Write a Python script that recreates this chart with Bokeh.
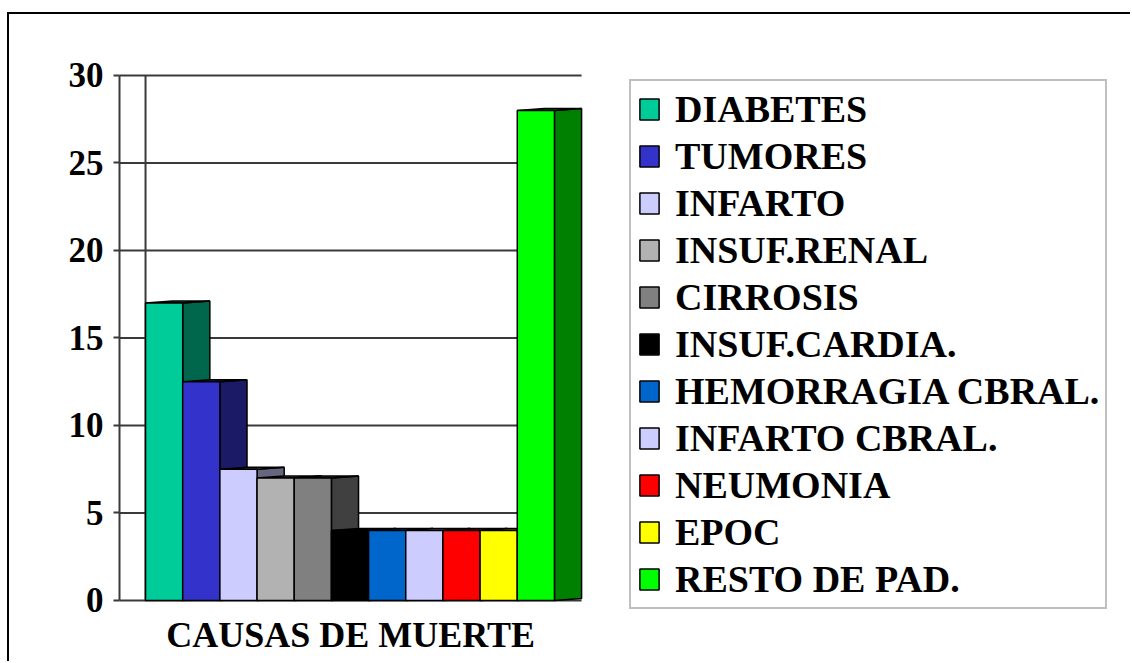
from bokeh.plotting import figure
from bokeh.models import (Range1d, FixedTicker, Legend, LegendItem, ColumnDataSource,
                          Label)
from bokeh.embed import file_html
from bokeh.resources import INLINE

# ---- data ----
causes = ["DIABETES", "TUMORES", "INFARTO", "INSUF.RENAL", "CIRROSIS",
          "INSUF.CARDIA.", "HEMORRAGIA CBRAL.", "INFARTO CBRAL.",
          "NEUMONIA", "EPOC", "RESTO DE PAD."]
values = [17, 12.5, 7.5, 7, 7, 4, 4, 4, 4, 4, 28]
y_ticks = [0, 5, 10, 15, 20, 25, 30]
x_title = "CAUSAS DE MUERTE"

# ---- styles ----
front_colors = ["#00CC99", "#3333CC", "#CCCCFF", "#B2B2B2", "#808080", "#000000",
                "#0066CC", "#CCCCFF", "#FF0000", "#FFFF00", "#00FF00"]
side_colors = ["#00664C", "#1A1A66", "#66667F", "#595959", "#404040", "#000000",
               "#003366", "#66667F", "#800000", "#808000", "#008000"]
DX = 0.73          # 3-D depth (x units)
DY = 0.12          # 3-D depth (y units)
X_FRONT = -0.70    # front (floor edge) of the chart box
X_END = 11.73      # right end of the chart box
SERIF = "Liberation Serif"
GRID = "#3a3a3a"

n = len(causes)
left = list(range(n))
right = [i + 1 for i in left]

front_src = ColumnDataSource(dict(left=left, right=right, bottom=[0] * n, top=values,
                                  color=front_colors, label=causes))
side_src = ColumnDataSource(dict(
    xs=[[r, r + DX, r + DX, r] for r in right],
    ys=[[0, DY, v + DY, v] for v in values],
    color=side_colors))
top_src = ColumnDataSource(dict(
    xs=[[l, l + DX, r + DX, r] for l, r in zip(left, right)],
    ys=[[v, v + DY, v + DY, v] for v in values],
    color=side_colors))

# frame spans the whole area right of the y-axis and down to the bottom
p = figure(width=1123, height=649,
           x_range=Range1d(-0.754, 26.55), y_range=Range1d(-3.6, 30.171),
           output_backend="svg", toolbar_location=None, x_axis_location=None,
           min_border_left=108, min_border_right=0,
           min_border_top=58, min_border_bottom=0)
p.styles = {"border-top": "2px solid black", "border-left": "2px solid black",
            "margin-top": "12px", "margin-left": "7px"}
p.outline_line_color = None
p.background_fill_color = "white"
p.border_fill_color = "white"
p.grid.visible = False

# gridlines (back wall), back-wall edge and front axis line
p.segment(x0=[X_FRONT] * len(y_ticks), y0=y_ticks, x1=[X_END] * len(y_ticks),
          y1=y_ticks, line_color=GRID, line_width=2)
p.segment(x0=[0], y0=[0], x1=[0], y1=[y_ticks[-1]], line_color=GRID, line_width=2)
p.segment(x0=[X_FRONT], y0=[0], x1=[X_FRONT], y1=[y_ticks[-1]], line_color=GRID,
          line_width=2)

# bars
p.patches(xs="xs", ys="ys", source=side_src, fill_color="color",
          line_color="black", line_width=1.5)
p.patches(xs="xs", ys="ys", source=top_src, fill_color="color",
          line_color="black", line_width=1.5)
fronts = p.quad(left="left", right="right", bottom="bottom", top="top",
                source=front_src, fill_color="color", line_color="black",
                line_width=1.5)

# y axis (only ticks + labels; its line is drawn above)
p.yaxis.ticker = FixedTicker(ticks=y_ticks)
p.yaxis.minor_tick_line_color = None
p.yaxis.axis_line_color = None
p.yaxis.major_tick_in = 2
p.yaxis.major_tick_out = 4
p.yaxis.major_tick_line_width = 2
p.yaxis.major_tick_line_color = GRID
p.yaxis.major_label_text_font = SERIF
p.yaxis.major_label_text_font_style = "bold"
p.yaxis.major_label_text_font_size = "35px"
p.yaxis.major_label_text_color = "black"
p.yaxis.major_label_standoff = 10

# category title under the bars
p.add_layout(Label(x=(X_FRONT + X_END) / 2, y=-1.95, text=x_title,
                   text_align="center", text_baseline="alphabetic",
                   text_font=SERIF, text_font_style="bold",
                   text_font_size="36px", text_color="black"))

# legend
items = [LegendItem(label=c, renderers=[fronts], index=i) for i, c in enumerate(causes)]
legend = Legend(items=items, location=(512, 54), margin=0, padding=6,
                spacing=3, glyph_width=24, glyph_height=26, label_standoff=14,
                label_text_font=SERIF, label_text_font_style="bold",
                label_text_font_size="38px", label_text_color="black",
                border_line_color="#7f7f7f", border_line_width=2,
                background_fill_color="white", background_fill_alpha=1)
p.add_layout(legend)

open("out.html", "w").write(file_html(p, INLINE))
